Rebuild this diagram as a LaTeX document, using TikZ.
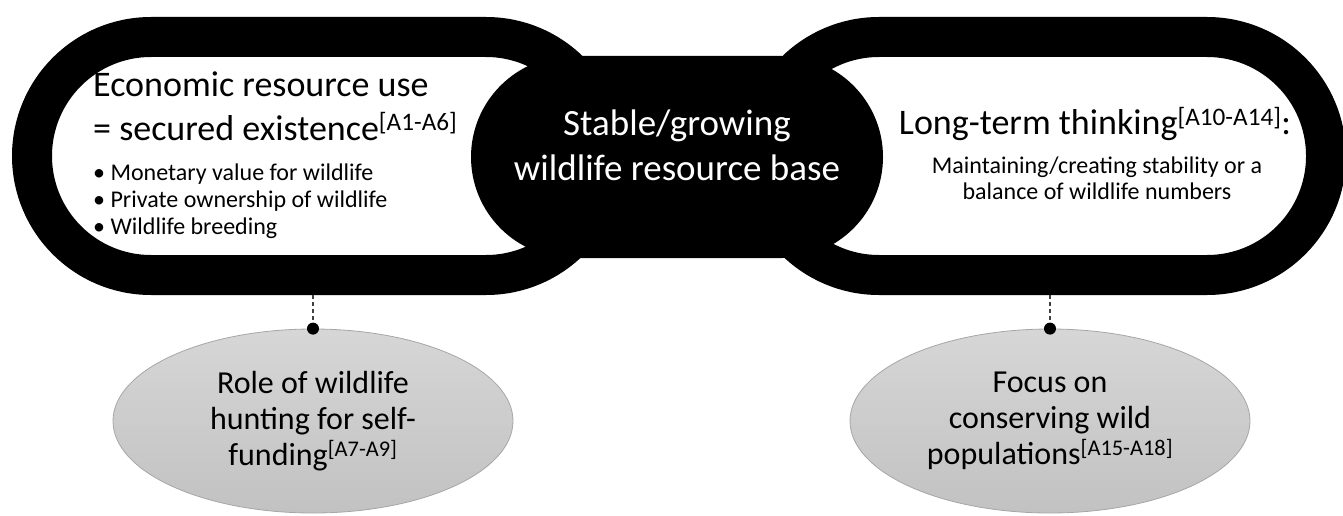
\documentclass[tikz,border=0pt]{standalone}
\usepackage{fontspec}
\setmainfont{Carlito}
\usetikzlibrary{shapes.geometric}
\begin{document}
\begin{tikzpicture}[x=1pt, y=-1pt,
  ring/.style={rectangle, draw=black, fill=white, line width=40pt,
    rounded corners=119pt, minimum height=238pt, inner sep=0pt, outer sep=20pt},
  hub/.style={rectangle, fill=black, rounded corners=101pt,
    minimum width=412pt, minimum height=202pt, inner sep=0pt},
  big/.style={font=\fontsize{36}{45}\selectfont, inner sep=0pt},
  small/.style={font=\fontsize{24}{28}\selectfont, inner sep=0pt},
  topic/.style={ellipse, draw=black!35, line width=0.8pt,
    top color=black!16, bottom color=black!24,
    minimum width=400pt, minimum height=184pt, inner sep=0pt,
    align=center, font=\fontsize{32}{36}\selectfont},
  link/.style={draw=black!75, line width=1.5pt, dash pattern=on 4pt off 3pt},
  knot/.style={circle, fill=black, minimum size=12pt, inner sep=0pt}
]
\useasboundingbox (0,0) rectangle (1343,516);

% the two linked rings and the black hub joining them
\node[ring, minimum width=573pt] (econ) at (318.5,156) {};
\node[ring, minimum width=566pt] (longterm) at (1043,156) {};
\node[hub] (hub) at (677,157) {};
\node[big, text=white, align=center, font=\fontsize{37}{45}\selectfont] (hubtext) at (677,145)
  {Stable/growing\\wildlife resource base};

% left ring contents
\node[big, anchor=base west] (e1) at (93,97) {Economic resource use};
\node[big, anchor=base west] (e2) at (93,140) {= secured existence\textsuperscript{[A1-A6]}};
\node[small, anchor=base west] (e3) at (93,180) {• Monetary value for wildlife};
\node[small, anchor=base west] (e4) at (93,207) {• Private ownership of wildlife};
\node[small, anchor=base west] (e5) at (93,234) {• Wildlife breeding};

% right ring contents
\node[big, anchor=base] (l1) at (1095,135) {Long-term thinking\textsuperscript{[A10-A14]}:};
\node[small, anchor=base] (l2) at (1097,173) {Maintaining/creating stability or a};
\node[small, anchor=base] (l3) at (1097,199) {balance of wildlife numbers};

% grey topics below
\node[topic] (fund) at (313,421)
  {Role of wildlife\\hunting for self-\\funding\textsuperscript{[A7-A9]}};
\node[topic] (wild) at (1050,421)
  {Focus on\\conserving wild\\populations\textsuperscript{[A15-A18]}};

% dashed ties ending in dots
\node[knot] (k1) at (fund.north) {};
\node[knot] (k2) at (wild.north) {};
\draw[link] (econ.south -| k1) -- (k1);
\draw[link] (longterm.south -| k2) -- (k2);
\end{tikzpicture}
\end{document}
